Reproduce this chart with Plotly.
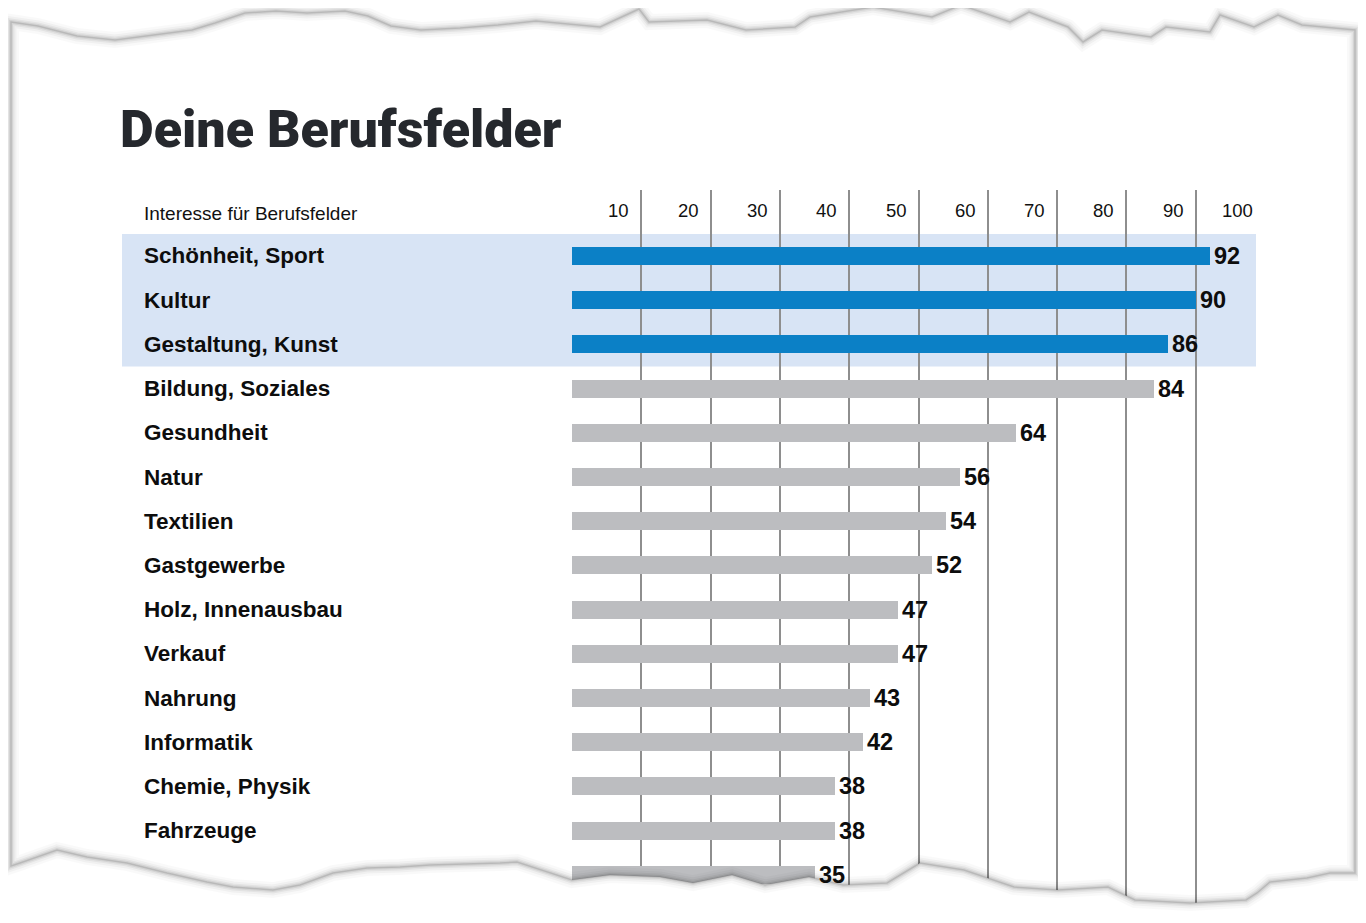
import plotly.graph_objects as go

# ---------------- data ----------------
categories = [
    "Schönheit, Sport", "Kultur", "Gestaltung, Kunst", "Bildung, Soziales",
    "Gesundheit", "Natur", "Textilien", "Gastgewerbe", "Holz, Innenausbau",
    "Verkauf", "Nahrung", "Informatik", "Chemie, Physik", "Fahrzeuge", "",
]
values = [92, 90, 86, 84, 64, 56, 54, 52, 47, 47, 43, 42, 38, 38, 35]
highlight_count = 3
tick_values = [10, 20, 30, 40, 50, 60, 70, 80, 90, 100]
tick_labels = ["10", "20", "30", "40", "50", "60", "70", "80", "90", "100"]
grid_values = [0, 10, 20, 30, 40, 50, 60, 70, 80, 90]
title_text = "Deine Berufsfelder"
subtitle_text = "Interesse für Berufsfelder"

# ---------------- layout constants ----------------
OFF = 8                      # default page margin of the html body
W, H = 1366 - OFF, 923 - OFF
PLOT_LEFT, PLOT_RIGHT = 572, 1265
PLOT_TOP, PLOT_BOTTOM = 190, 923
Y_TOP, Y_BOT = -1.493, 15.09

BLUE = "#0b80c6"
GREY = "#bcbdc0"
BAND = "#d8e4f5"
GRID = "#8e8e8e"


def px_x(p):
    return (p - OFF) / W


def px_y(p):
    return 1 - (p - OFF) / H


def idx_to_py(i):
    return PLOT_TOP + (i - Y_TOP) / (Y_BOT - Y_TOP) * (PLOT_BOTTOM - PLOT_TOP)


n = len(values)
ypos = list(range(n))
colors = [BLUE if i < highlight_count else GREY for i in range(n)]

fig = go.Figure()
fig.add_trace(go.Bar(
    x=values, y=ypos, orientation="h", width=0.41,
    marker=dict(color=colors, line=dict(width=0)),
    hoverinfo="skip", showlegend=False,
))

annotations = []
annotations.append(dict(
    text=title_text, xref="paper", yref="paper", x=px_x(119), y=px_y(129),
    xanchor="left", yanchor="middle", showarrow=False, borderpad=0,
    font=dict(family="Roboto", size=52, color="#25282d", weight=900),
))
annotations.append(dict(
    text=subtitle_text, xref="paper", yref="paper", x=px_x(143), y=px_y(213),
    xanchor="left", yanchor="middle", showarrow=False, borderpad=0,
    font=dict(family="Liberation Sans", size=19, color="#111111"),
))
for tv, tl in zip(tick_values, tick_labels):
    annotations.append(dict(
        text=tl, xref="x", yref="paper", x=tv, y=px_y(210),
        xanchor="right", yanchor="middle", xshift=-11, showarrow=False, borderpad=0,
        font=dict(family="Liberation Sans", size=18.5, color="#111111"),
    ))
for i, (c, v) in enumerate(zip(categories, values)):
    if c:
        annotations.append(dict(
            text=c, xref="paper", yref="y", x=px_x(143), y=i,
            xanchor="left", yanchor="middle", showarrow=False, borderpad=0,
            font=dict(family="Liberation Sans", size=22.5, color="#0d0d0d", weight=700),
        ))
    annotations.append(dict(
        text=str(v), xref="x", yref="y", x=v, y=i,
        xanchor="left", yanchor="middle", xshift=3, showarrow=False, borderpad=0,
        font=dict(family="Liberation Sans", size=23.5, color="#0d0d0d", weight=700),
    ))

shapes = []
shapes.append(dict(
    type="rect", xref="paper", yref="paper", layer="below",
    x0=px_x(122), x1=px_x(1256),
    y0=px_y(idx_to_py(-0.5)), y1=px_y(idx_to_py(highlight_count - 0.5)),
    fillcolor=BAND, line=dict(width=0),
))

# torn paper outline (decorative)
top_edge = [(11, 22), (38, 26), (77, 36), (115, 40), (146, 36), (192, 30), (215, 23),
            (245, 13), (276, 11), (307, 13), (345, 11), (368, 16), (391, 26), (421, 30),
            (460, 28), (498, 25), (536, 21), (600, 27), (639, 9), (649, 22), (707, 20),
            (746, 30), (795, 27), (810, 17), (873, 7), (932, 17), (961, 5), (1010, 22),
            (1029, 12), (1068, 27), (1083, 42), (1102, 30), (1151, 37), (1166, 27),
            (1210, 32), (1220, 15), (1254, 27), (1278, 15), (1302, 25), (1355, 30)]
bottom_edge = [(1355, 873), (1330, 873), (1307, 878), (1270, 882), (1257, 893),
               (1246, 900), (1190, 903), (1135, 900), (1108, 887), (1058, 890),
               (1014, 887), (964, 870), (920, 863), (887, 883), (843, 885), (809, 877),
               (765, 885), (732, 875), (693, 883), (660, 877), (610, 875), (572, 880),
               (517, 862), (500, 863), (430, 865), (400, 867), (367, 868), (333, 873),
               (300, 885), (273, 890), (233, 887), (207, 882), (167, 873), (127, 863),
               (87, 857), (57, 850), (20, 863), (11, 866)]
outline = top_edge + bottom_edge


def path_of(pts):
    return "M " + " L ".join(f"{px_x(x):.5f},{px_y(y):.5f}" for x, y in pts) + " Z"


paper_path = path_of(outline)
mask_path = "M -0.1,-0.1 L 1.1,-0.1 L 1.1,1.1 L -0.1,1.1 Z " + paper_path
shapes.append(dict(
    type="path", xref="paper", yref="paper", layer="above", path=mask_path,
    fillcolor="white", fillrule="evenodd", line=dict(width=0),
))
for w, col in [(16, "rgba(0,0,0,0.025)"), (11, "rgba(0,0,0,0.035)"),
               (7, "rgba(0,0,0,0.05)"), (4, "rgba(0,0,0,0.07)"),
               (1.5, "rgba(0,0,0,0.12)")]:
    shapes.append(dict(
        type="path", xref="paper", yref="paper", layer="above", path=paper_path,
        fillcolor="rgba(0,0,0,0)", line=dict(width=w, color=col),
    ))

fig.update_layout(
    width=W, height=H,
    margin=dict(l=0, r=0, t=0, b=0, autoexpand=False),
    paper_bgcolor="white", plot_bgcolor="rgba(0,0,0,0)",
    xaxis=dict(
        domain=[px_x(PLOT_LEFT), px_x(PLOT_RIGHT)], range=[0, 100],
        tickvals=grid_values, showticklabels=False, ticks="",
        showgrid=True, gridcolor=GRID, gridwidth=1.5, zeroline=False,
        showline=False, fixedrange=True,
    ),
    yaxis=dict(
        domain=[0, px_y(PLOT_TOP)], range=[Y_BOT, Y_TOP],
        showticklabels=False, showgrid=False, zeroline=False, ticks="",
        showline=False, fixedrange=True,
    ),
    bargap=0,
    annotations=annotations,
    shapes=shapes,
    showlegend=False,
)

fig.write_html("out.html", include_plotlyjs=True, config={"displayModeBar": False})
